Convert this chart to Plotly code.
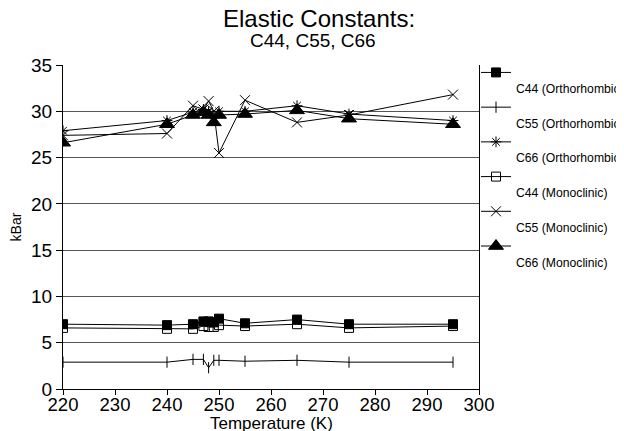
import plotly.graph_objects as go

temps = [220, 240, 245, 247, 248, 249, 250, 255, 265, 275, 295]

c44_ortho = [7.0, 6.9, 7.0, 7.3, 7.3, 7.2, 7.6, 7.1, 7.5, 7.0, 7.0]
c55_ortho = [2.9, 2.9, 3.2, 3.2, 2.3, 3.1, 3.1, 3.0, 3.1, 2.9, 2.9]
c66_ortho = [27.9, 29.0, 29.9, 30.2, 30.0, 29.3, 30.0, 30.0, 30.6, 29.7, 29.0]
c44_mono = [6.6, 6.5, 6.5, 6.8, 6.7, 6.7, 6.9, 6.8, 7.0, 6.6, 6.8]
c55_mono = [27.4, 27.6, 30.6, 30.2, 31.1, 30.0, 25.5, 31.2, 28.8, 29.6, 31.8]
c66_mono = [26.6, 28.6, 29.6, 29.9, 29.6, 28.8, 29.6, 29.7, 30.1, 29.2, 28.6]

series = [
    ("C44 (Orthorhombic)", c44_ortho, "square", 9),
    ("C55 (Orthorhombic)", c55_ortho, "line-ns-open", 8),
    ("C66 (Orthorhombic)", c66_ortho, "asterisk-open", 9),
    ("C44 (Monoclinic)", c44_mono, "square-open", 9),
    ("C55 (Monoclinic)", c55_mono, "x-thin-open", 10),
    ("C66 (Monoclinic)", c66_mono, "triangle-up", 13),
]

title_main = "Elastic Constants:"
title_sub = "C44, C55, C66"
x_title = "Temperature (K)"

FONT = "Liberation Sans, Arial, Helvetica, sans-serif"

# the page draws the figure 8px in from its corner (body margin)
W, H = 624, 423
L, R, T, B = 55, 153, 57, 42
PW, PH = W - L - R, H - T - B

fig = go.Figure()
for name, vals, sym, size in series:
    fig.add_trace(go.Scatter(
        x=temps, y=vals, name="<br>" + name, mode="lines+markers",
        line=dict(color="black", width=1),
        marker=dict(symbol=sym, size=size, color="black",
                    line=dict(color="black", width=1)),
    ))

fig.add_annotation(text=title_main, xref="paper", yref="paper",
                   x=(311 - L) / PW, y=1 + (T - 10) / PH,
                   xanchor="center", yanchor="middle", showarrow=False,
                   font=dict(size=24, family=FONT, color="black"))
fig.add_annotation(text=title_sub, xref="paper", yref="paper",
                   x=(305 - L) / PW, y=1 + (T - 32) / PH,
                   xanchor="center", yanchor="middle", showarrow=False,
                   font=dict(size=19, family=FONT, color="black"))
fig.add_annotation(text=x_title, xref="paper", yref="paper",
                   x=0.5, y=-(415 - (H - B)) / PH,
                   xanchor="center", yanchor="middle", showarrow=False,
                   font=dict(size=17, family=FONT, color="black"))

fig.update_layout(
    width=W, height=H,
    paper_bgcolor="white", plot_bgcolor="white",
    margin=dict(l=L, r=R, t=T, b=B, autoexpand=False),
    font=dict(family=FONT, color="black"),
    showlegend=True,
    legend=dict(
        x=(468 - L) / PW, xanchor="left", y=1 + (T - 50) / PH, yanchor="top",
        font=dict(size=12.2, family=FONT, color="black"),
        valign="top", itemwidth=30, tracegroupgap=0, maxheight=320,
        bgcolor="rgba(0,0,0,0)",
    ),
    xaxis=dict(
        range=[220, 300], dtick=10, tick0=220,
        showgrid=False, zeroline=False,
        showline=True, linecolor="black", linewidth=1,
        ticks="outside", ticklen=5, tickcolor="black",
        ticklabelstandoff=-6,
        tickfont=dict(size=18.5, family=FONT),
    ),
    yaxis=dict(
        range=[0, 35], dtick=5,
        showgrid=True, gridcolor="#555555", gridwidth=1,
        zeroline=False,
        showline=True, linecolor="black", linewidth=1, mirror=True,
        ticks="outside", ticklen=6, tickcolor="black",
        tickfont=dict(size=19, family=FONT),
        title=dict(text="kBar", font=dict(size=14, family=FONT), standoff=8),
    ),
)

fig.write_html("out.html")
